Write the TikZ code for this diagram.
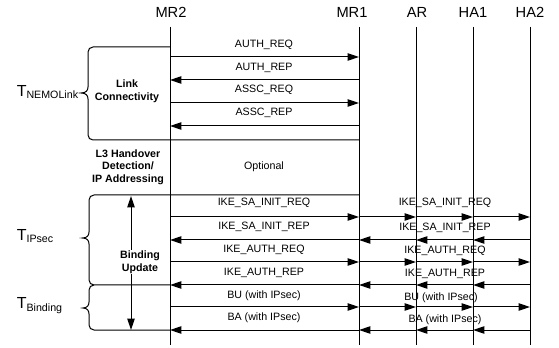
\documentclass[tikz,border=0pt]{standalone}
\usepackage{fontspec}
\setmainfont{Liberation Sans}
\usetikzlibrary{arrows.meta}

\begin{document}
\begin{tikzpicture}[x=0.75pt,y=0.75pt,yscale=-1,xscale=1,
    lifeline/.style={line width=0.75pt},
    msg/.style={line width=0.75pt,-{Triangle[length=8.5pt,width=5.5pt]}},
    brace/.style={line width=0.75pt},
    entity/.style={inner sep=0.75pt,font=\fontsize{11}{13}\selectfont},
    msglabel/.style={inner sep=0.75pt,font=\fontsize{8}{9}\selectfont},
    phase/.style={inner sep=0.75pt,align=center,font=\fontsize{8}{9.5}\selectfont\bfseries},
    period/.style={inner sep=0.75pt,anchor=base west,font=\fontsize{12}{14}\selectfont}]
      \useasboundingbox (0,0) rectangle (559,348);

      % Entities
      \node[entity] (mr2) at (171,12) {MR2};
      \node[entity] (mr1) at (352,12) {MR1};
      \node[entity] (ar) at (417,12) {AR};
      \node[entity] (ha1) at (473,12) {HA1};
      \node[entity] (ha2) at (530,12) {HA2};

      % Lifelines
      \coordinate (mr2t) at (170,27);  \coordinate (mr2b) at (170,345);
      \coordinate (mr1t) at (359,27);  \coordinate (mr1b) at (359,345);
      \coordinate (art) at (416,27);   \coordinate (arb) at (416,345);
      \coordinate (ha1t) at (473,27);  \coordinate (ha1b) at (473,345);
      \coordinate (ha2t) at (530,27);  \coordinate (ha2b) at (530,345);
      \draw[lifeline] (mr2t) -- (mr2b);
      \draw[lifeline] (mr1t) -- (mr1b);
      \draw[lifeline] (art) -- (arb);
      \draw[lifeline] (ha1t) -- (ha1b);
      \draw[lifeline] (ha2t) -- (ha2b);

      % Link connectivity
      \draw[msg] (mr2t |- 0,57) -- (mr1t |- 0,57);
      \draw[msg] (mr1t |- 0,80) -- (mr2t |- 0,80);
      \draw[msg] (mr2t |- 0,103) -- (mr1t |- 0,103);
      \draw[msg] (mr1t |- 0,126) -- (mr2t |- 0,126);
      \node[msglabel] (authreq) at (264,45) {AUTH\_REQ};
      \node[msglabel] (authrep) at (264,68) {AUTH\_REP};
      \node[msglabel] (asscreq) at (264,90) {ASSC\_REQ};
      \node[msglabel] (asscrep) at (264,113) {ASSC\_REP};

      % Brace T_NEMOLink
      \draw[brace] (mr2t |- 0,47) -- (93,47) .. controls (90.2,47) and (88,49.2) .. (88,52) -- (88,87) .. controls (88,90.5) and (86,93) .. (81,93) .. controls (86,93) and (88,95.5) .. (88,99) -- (88,135) .. controls (88,137.8) and (90.2,140) .. (93,140) -- (mr1t |- 0,140);

      % IKE_SA_INIT
      \draw[msg] (mr2t |- 0,217) -- (mr1t |- 0,217);
      \draw[msg] (mr1t |- 0,217) -- (art |- 0,217);
      \draw[msg] (art |- 0,217) -- (ha1t |- 0,217);
      \draw[msg] (ha1t |- 0,217) -- (ha2t |- 0,217);
      \draw[msg] (mr1t |- 0,240) -- (mr2t |- 0,240);
      \draw[msg] (art |- 0,240) -- (mr1t |- 0,240);
      \draw[msg] (ha1t |- 0,240) -- (art |- 0,240);
      \draw[msg] (ha2t |- 0,240) -- (ha1t |- 0,240);
      % IKE_AUTH
      \draw[msg] (mr2t |- 0,262) -- (mr1t |- 0,262);
      \draw[msg] (mr1t |- 0,262) -- (art |- 0,262);
      \draw[msg] (art |- 0,262) -- (ha1t |- 0,262);
      \draw[msg] (ha1t |- 0,262) -- (ha2t |- 0,262);
      \draw[msg] (mr1t |- 0,285) -- (mr2t |- 0,285);
      \draw[msg] (art |- 0,285) -- (mr1t |- 0,285);
      \draw[msg] (ha1t |- 0,285) -- (art |- 0,285);
      \draw[msg] (ha2t |- 0,285) -- (ha1t |- 0,285);
      % BU / BA
      \draw[msg] (mr2t |- 0,307) -- (mr1t |- 0,307);
      \draw[msg] (mr1t |- 0,307) -- (art |- 0,307);
      \draw[msg] (art |- 0,307) -- (ha1t |- 0,307);
      \draw[msg] (ha1t |- 0,307) -- (ha2t |- 0,307);
      \draw[msg] (mr1t |- 0,330) -- (mr2t |- 0,330);
      \draw[msg] (art |- 0,330) -- (mr1t |- 0,330);
      \draw[msg] (ha1t |- 0,330) -- (art |- 0,330);
      \draw[msg] (ha2t |- 0,330) -- (ha1t |- 0,330);

      % Text Node (left messages)
      \node[msglabel] (sainitreq) at (264,203) {IKE\_SA\_INIT\_REQ};
      \node[msglabel] (sainitrep) at (264,227) {IKE\_SA\_INIT\_REP};
      \node[msglabel] (ikeauthreq) at (264,250) {IKE\_AUTH\_REQ};
      \node[msglabel] (ikeauthrep) at (264,273) {IKE\_AUTH\_REP};
      \node[msglabel] (bu) at (264,296) {BU (with IPsec)};
      \node[msglabel] (ba) at (264,318) {BA (with IPsec)};
      % Text Node (right messages)
      \node[msglabel] (sainitreqr) at (445,203) {IKE\_SA\_INIT\_REQ};
      \node[msglabel] (sainitrepr) at (445,228) {IKE\_SA\_INIT\_REP};
      \node[msglabel] (ikeauthreqr) at (445,251) {IKE\_AUTH\_REQ};
      \node[msglabel] (ikeauthrepr) at (445,274) {IKE\_AUTH\_REP};
      \node[msglabel] (bur) at (441,298) {BU (with IPsec)};
      \node[msglabel] (bar) at (445,320) {BA (with IPsec)};

      % Braces T_IPsec and T_Binding
      \draw[brace] (mr1t |- 0,195) -- (94,195) .. controls (91.2,195) and (89,197.2) .. (89,200) -- (89,232) .. controls (89,235.5) and (87,238) .. (82.5,238) .. controls (87,238) and (89,240.5) .. (89,244) -- (89,280) .. controls (89,282.8) and (91.2,285) .. (94,285) -- (mr2t |- 0,285);
      \draw[brace] (94,285) .. controls (91.2,285) and (89,287.2) .. (89,290) -- (89,302) .. controls (89,305.5) and (87,308) .. (83,308) .. controls (87,308) and (89,310.5) .. (89,314) -- (89,325) .. controls (89,327.8) and (91.2,330) .. (94,330) -- (mr2t |- 0,330);

      % Binding update span
      \coordinate (butop) at (131,196);
      \coordinate (bubot) at (131,330);
      \draw[line width=0.75pt,{Triangle[length=8.5pt,width=5.5pt]}-{Triangle[length=8.5pt,width=5.5pt]}] (butop) -- (bubot);

      % Phases
      \node[phase] (linkconn) at (127,91) {Link\\Connectivity};
      \node[phase] (handover) at (128,167) {L3 Handover\\Detection/\\IP Addressing};
      \node[msglabel] (optional) at (264,167) {Optional};
      \node[phase,fill=white] (bindupd) at (140,262) {Binding\\Update};

      % Periods
      \node[period] (tnemo) at (15.5,96.7) {T\raisebox{-1pt}{\fontsize{8}{9}\selectfont NEMOLink}};
      \node[period] (tipsec) at (15.5,240.7) {T\raisebox{-1.5pt}{\fontsize{8}{9}\selectfont IPsec}};
      \node[period] (tbind) at (15.5,309) {T\raisebox{-2pt}{\fontsize{8}{9}\selectfont Binding}};
\end{tikzpicture}
\end{document}
